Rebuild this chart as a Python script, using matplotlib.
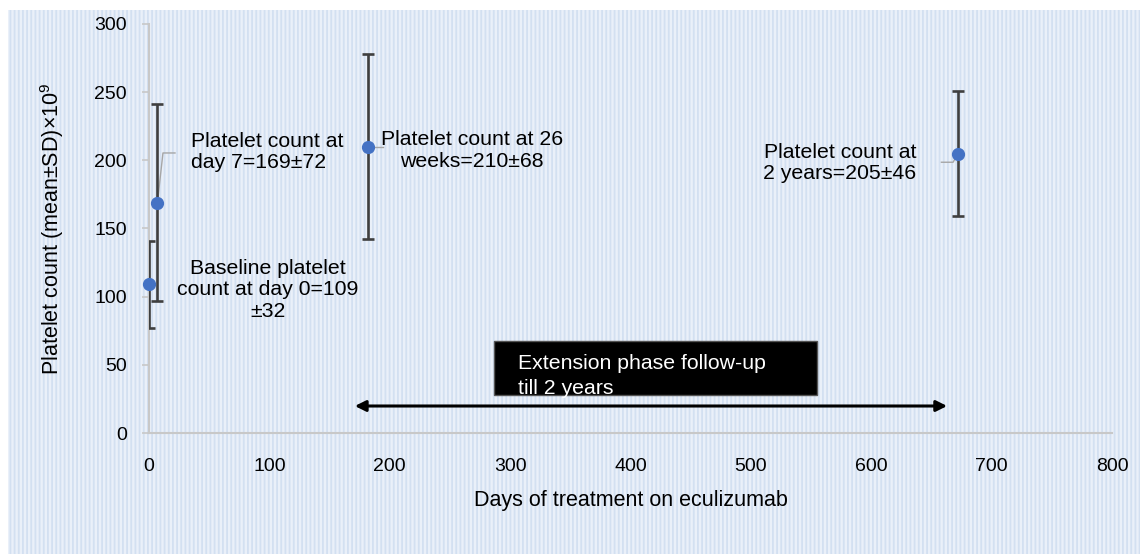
import numpy as np
import matplotlib.pyplot as plt
from matplotlib.patches import Rectangle

plt.rcParams['font.family'] = ['Liberation Sans', 'DejaVu Sans']
plt.rcParams['mathtext.fontset'] = 'custom'
plt.rcParams['mathtext.rm'] = 'Liberation Sans'
plt.rcParams['hatch.color'] = '#d3e0f1'
plt.rcParams['hatch.linewidth'] = 1.3

# data
days = [0, 7, 182, 672]
means = [109, 169, 210, 205]
sds = [32, 72, 68, 46]
labels = ["Baseline platelet\ncount at day 0=109\n±32",
          "Platelet count at\nday 7=169±72",
          "Platelet count at 26\nweeks=210±68",
          "Platelet count at\n2 years=205±46"]
x_ticks = [0, 100, 200, 300, 400, 500, 600, 700, 800]
y_ticks = [0, 50, 100, 150, 200, 250, 300]
ext_start, ext_end = 171, 663

fig = plt.figure(figsize=(11.4, 5.54), dpi=100)
# striped background panel
bg = Rectangle((8 / 1140, 0), 1 - 8 / 1140, 1 - 10 / 554, transform=fig.transFigure,
               facecolor='#eaf0f9', edgecolor='#d3e0f1', hatch='||||', lw=0, zorder=-5)
fig.patches.append(bg)

ax = fig.add_axes([149 / 1140, 1 - 433 / 554, (1112 - 149) / 1140, (433 - 24) / 554])
ax.set_facecolor('none')
ax.set_xlim(0, 800)
ax.set_ylim(0, 300)

ax.errorbar(days, means, yerr=sds, fmt='none', ecolor='#3f3f3f', elinewidth=1.9,
            capsize=4.5, capthick=1.9, zorder=3)
ax.plot(days, means, 'o', color='#4472c4', markersize=8.5, zorder=4, linestyle='none',
        clip_on=False)

# leader lines
lc = '#a6a6a6'
ax.plot([21.6, 11.6, days[1]], [205.4, 205.4, means[1]], color=lc, lw=1, zorder=2)
ax.plot([days[2], 194.4], [means[2], means[2]], color=lc, lw=1, zorder=2)
ax.plot([658.3, 668, days[3]], [198.6, 198.6, means[3]], color=lc, lw=1, zorder=2)

fs = 15.3
ax.text(98.9, 104.9, labels[0], ha='center', va='center', fontsize=fs, linespacing=1.15)
ax.text(34.9, 206.1, labels[1], ha='left', va='center', fontsize=fs, linespacing=1.15)
ax.text(268.3, 207.2, labels[2], ha='center', va='center', fontsize=fs, linespacing=1.15,
        multialignment='center')
ax.text(574, 198, labels[3], ha='center', va='center', fontsize=fs, linespacing=1.15,
        multialignment='center')

# extension phase box and arrow
ax.add_patch(Rectangle((286.6, 27.9), 268.3, 39.6, facecolor='black', edgecolor='#555555',
                       lw=1, zorder=5))
ax.text(306.5, 51.3, "Extension phase follow-up", color='white', fontsize=fs,
        ha='left', va='center', zorder=6)
ax.text(306.5, 33.0, "till 2 years", color='white', fontsize=fs,
        ha='left', va='center', zorder=6)
ax.annotate('', xy=(ext_start, 19.8), xytext=(ext_end, 19.8),
            arrowprops=dict(arrowstyle='<|-|>', color='black', lw=2.2, mutation_scale=16,
                            shrinkA=0, shrinkB=0), zorder=6)

for s in ['top', 'right']:
    ax.spines[s].set_visible(False)
for s in ['left', 'bottom']:
    ax.spines[s].set_color('#c8c8c8')
    ax.spines[s].set_linewidth(1.5)

ax.set_xticks(x_ticks)
ax.set_yticks(y_ticks)
ax.tick_params(axis='x', length=0, pad=18, labelsize=14)
ax.tick_params(axis='y', length=5, width=1.2, color='#c8c8c8', pad=11, labelsize=14)
ax.set_xlabel("Days of treatment on eculizumab", fontsize=15.5, labelpad=11)
ax.set_ylabel("Platelet count (mean±SD)×10$^{9}$", fontsize=15.5, labelpad=20)

fig.savefig('out.png', dpi=100)
